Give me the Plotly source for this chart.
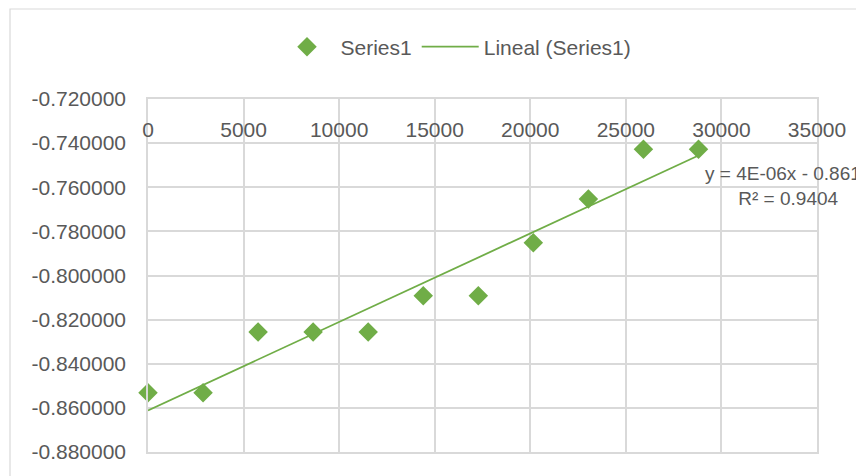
import numpy as np
import plotly.graph_objects as go

# ---- data ----
x_vals = [0, 2880, 5760, 8640, 11520, 14400, 17280, 20160, 23040, 25920, 28800]
y_vals = [-0.8531, -0.8531, -0.8256, -0.8256, -0.8256, -0.8092, -0.8092,
          -0.7851, -0.7653, -0.7428, -0.7428]
series_name = "Series1"
trend_name = "Lineal (Series1)"
y_ticks = [-0.72, -0.74, -0.76, -0.78, -0.80, -0.82, -0.84, -0.86, -0.88]
y_ticklabels = ["-0.720000", "-0.740000", "-0.760000", "-0.780000", "-0.800000",
                "-0.820000", "-0.840000", "-0.860000", "-0.880000"]
x_ticks = [0, 5000, 10000, 15000, 20000, 25000, 30000, 35000]

# ---- linear trendline ----
slope, intercept = np.polyfit(x_vals, y_vals, 1)
pred = np.polyval([slope, intercept], x_vals)
ss_res = np.sum((np.array(y_vals) - pred) ** 2)
ss_tot = np.sum((np.array(y_vals) - np.mean(y_vals)) ** 2)
r2 = 1 - ss_res / ss_tot
tx = [min(x_vals), max(x_vals)]
ty = list(np.polyval([slope, intercept], tx))

GREEN = "#70ad47"
GRID = "#d9d9d9"
TXT = "#595959"
FONT = "Liberation Sans"

OFF = 8  # page body margin
W, H = 864 - OFF, 476 - OFF
L, R, T, B = 148 - OFF, 47, 99 - OFF, 24
pw, ph = W - L - R, H - T - B

def px2paper_x(px):  # page pixel -> paper x
    return (px - OFF - L) / pw

def px2paper_y(py):  # page pixel -> paper y
    return (H - B - (py - OFF)) / ph

fig = go.Figure()
fig.add_trace(go.Scatter(
    x=x_vals, y=y_vals, mode="markers", name=series_name,
    marker=dict(symbol="diamond", size=15, color=GREEN),
    cliponaxis=False,
))
fig.add_trace(go.Scatter(
    x=tx, y=ty, mode="lines", name=trend_name, xaxis="x2",
    line=dict(color=GREEN, width=1.8),
))

eq_text = f"y = {slope:.0E}x - {abs(intercept):.4f}" + "<br>" + f"R² = {r2:.4f}"
fig.add_annotation(
    xref="paper", yref="paper",
    x=px2paper_x(788), y=px2paper_y(186),
    xanchor="center", yanchor="middle",
    text=eq_text,
    showarrow=False, align="center",
    font=dict(family=FONT, size=19, color=TXT),
)

# outer chart-area border
fig.add_shape(
    type="rect", xref="paper", yref="paper",
    x0=px2paper_x(10), x1=px2paper_x(900),
    y0=px2paper_y(500), y1=px2paper_y(9),
    line=dict(color=GRID, width=1.2), layer="below",
)

fig.update_layout(
    width=W, height=H,
    margin=dict(l=L, r=R, t=T, b=B, pad=0),
    paper_bgcolor="white", plot_bgcolor="white",
    font=dict(family=FONT, size=21, color=TXT),
    showlegend=True,
    legend=dict(
        orientation="h", x=px2paper_x(455), y=px2paper_y(47),
        xanchor="center", yanchor="middle",
        font=dict(family=FONT, size=21, color=TXT),
        bgcolor="rgba(0,0,0,0)", itemwidth=57,
    ),
    xaxis=dict(
        range=[0, 35000], tickvals=x_ticks, showticklabels=False,
        showgrid=True, gridcolor=GRID, gridwidth=1.5,
        zeroline=False, showline=True, mirror=True, linecolor=GRID, linewidth=1.5,
        ticks="",
    ),
    xaxis2=dict(
        range=[0, 35000], tickvals=x_ticks, tickformat="d", matches="x",
        overlaying="x", anchor="free", side="top",
        position=px2paper_y(143), ticklabelstandoff=2,
        showgrid=False, zeroline=False, showline=False, ticks="",
        tickfont=dict(family=FONT, size=21, color=TXT),
    ),
    yaxis=dict(
        range=[-0.88, -0.72], tickvals=y_ticks, ticktext=y_ticklabels,
        showgrid=True, gridcolor=GRID, gridwidth=1.5,
        zeroline=False, showline=True, mirror=True, linecolor=GRID, linewidth=1.5,
        ticks="", ticklabelstandoff=16,
        tickfont=dict(family=FONT, size=21, color=TXT),
    ),
)

fig.write_html("out.html")
